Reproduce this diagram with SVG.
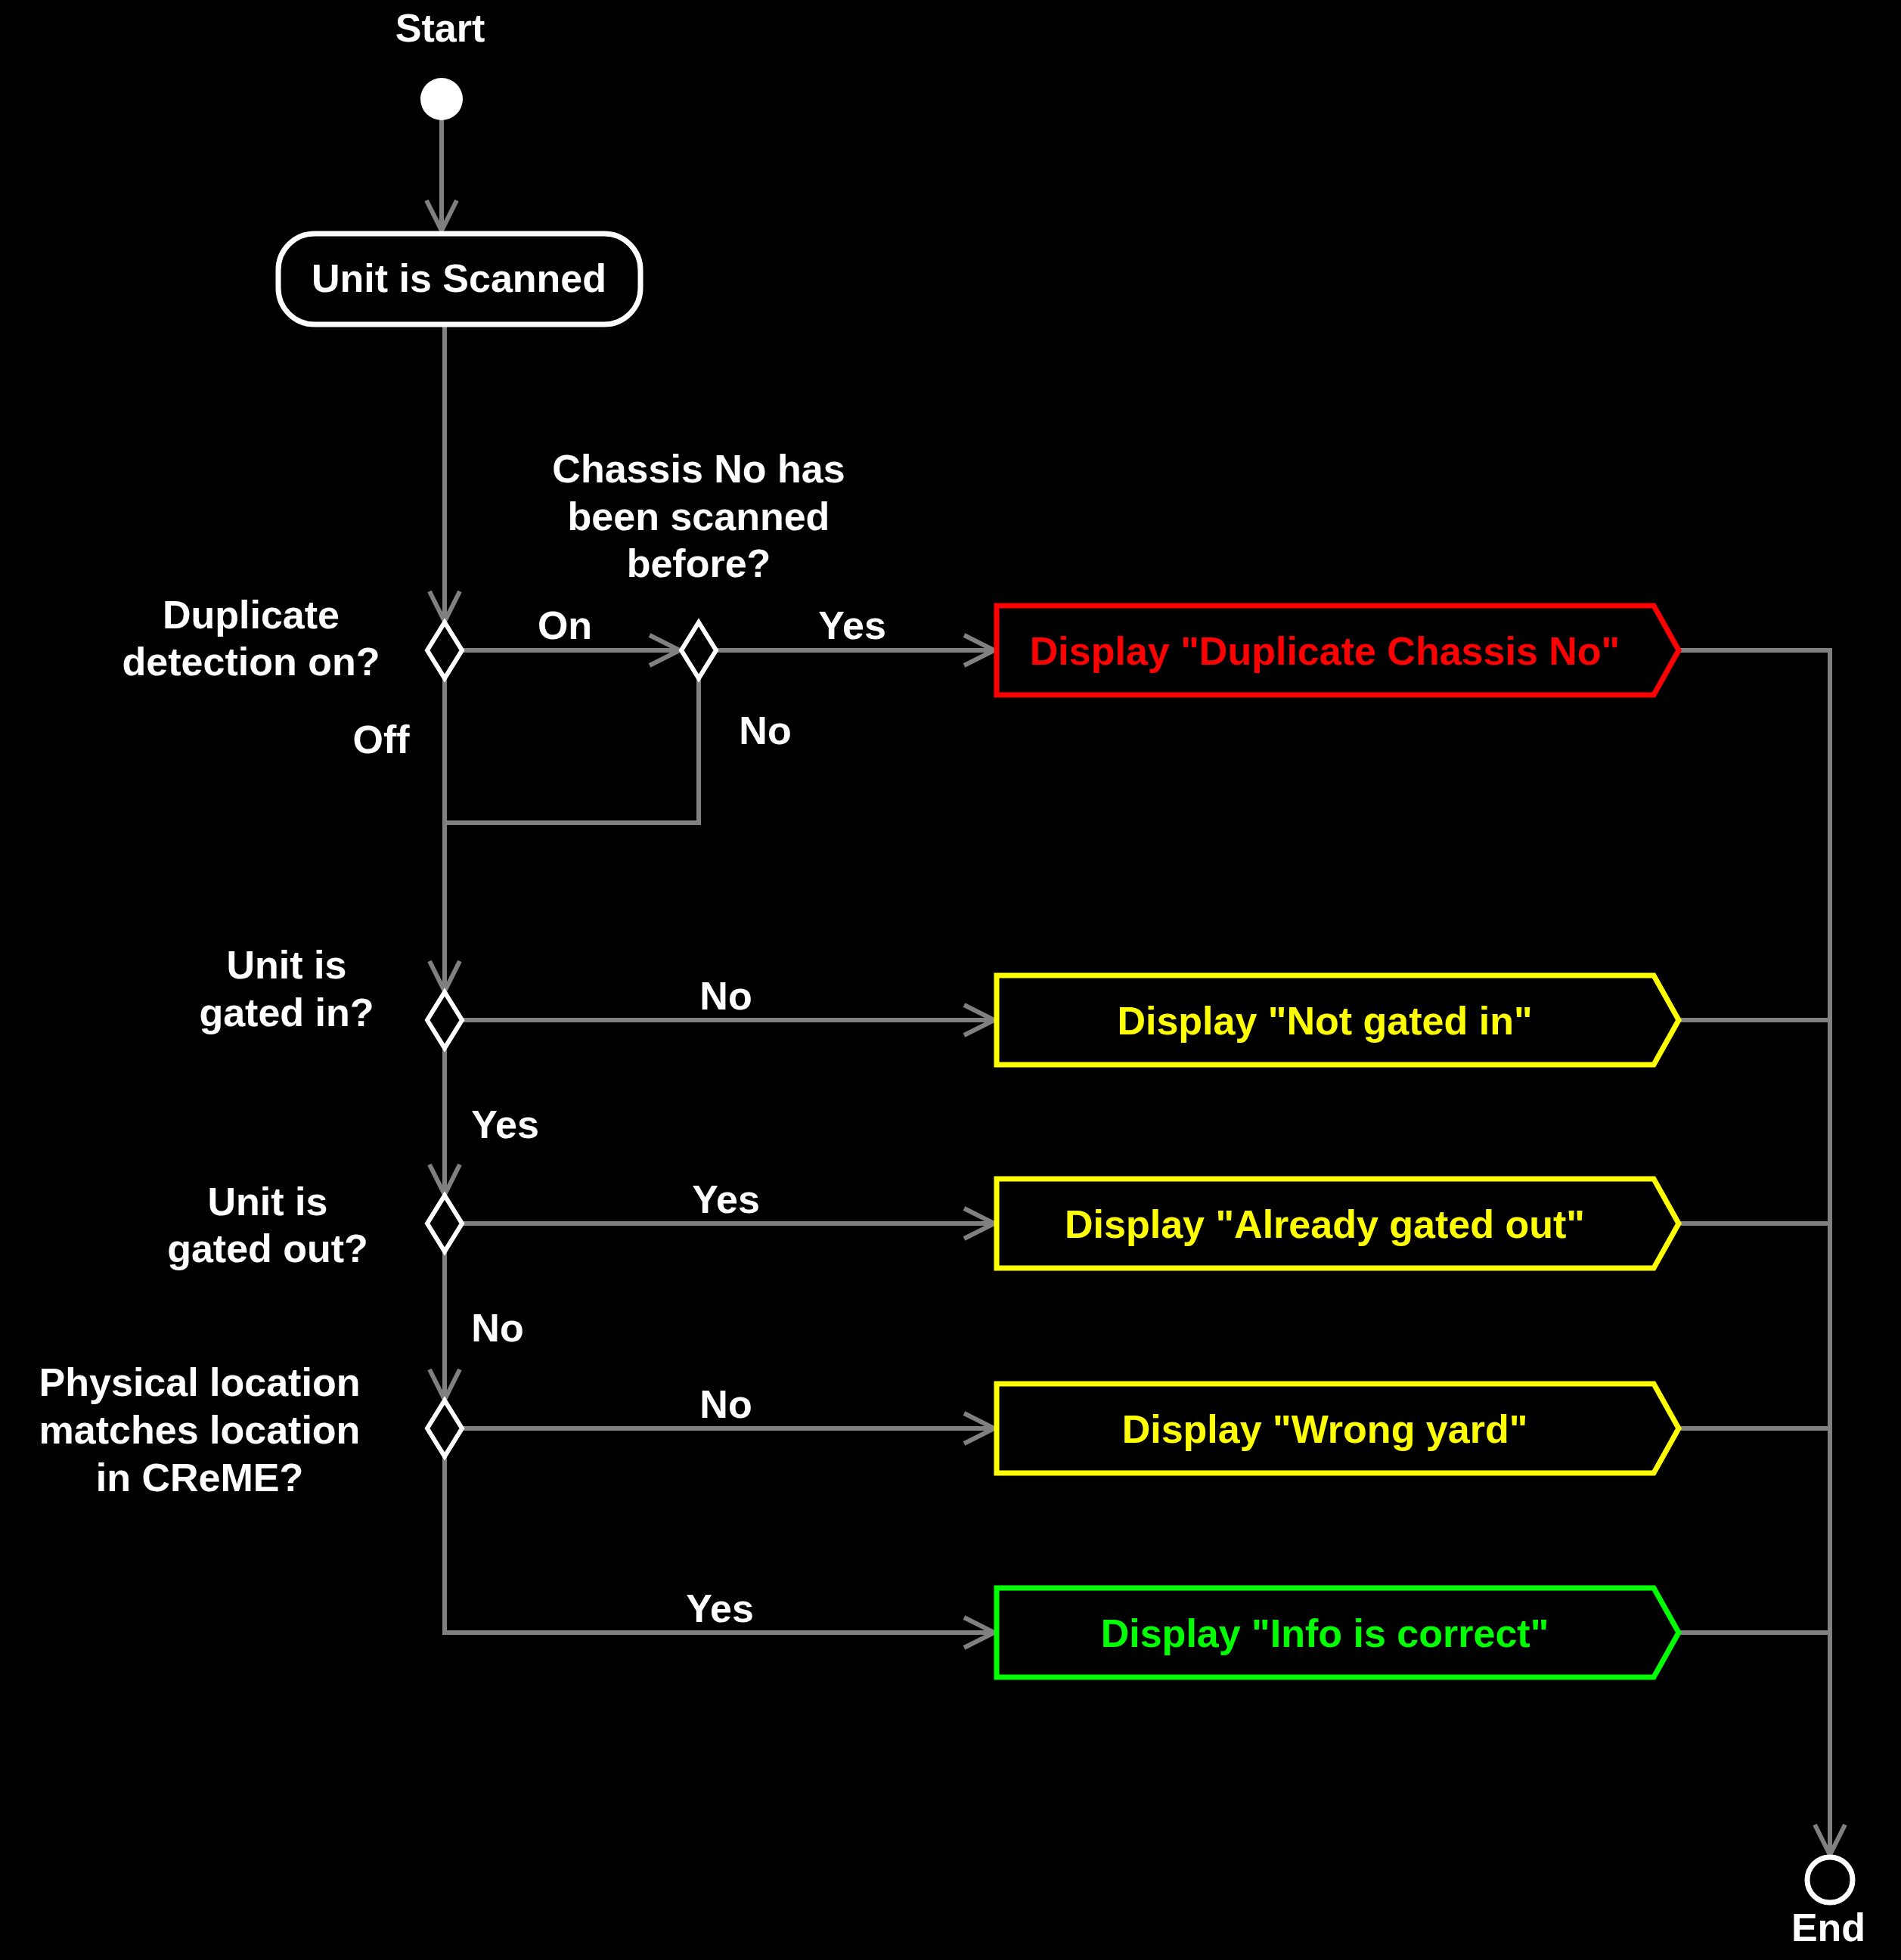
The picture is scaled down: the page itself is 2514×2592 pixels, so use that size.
<svg xmlns="http://www.w3.org/2000/svg" width="2514" height="2592" viewBox="0 0 2514 2592">
<defs>
<style>
text{font-family:"Liberation Sans",Arial,sans-serif;font-weight:bold;font-size:52px;fill:#fff;text-anchor:middle}
.c{fill:none;stroke:#808080;stroke-width:6}
.d{fill:#000;stroke:#fff;stroke-width:6}
.b{fill:#000;stroke-width:7}
</style>
<marker id="a" markerUnits="userSpaceOnUse" markerWidth="50" markerHeight="50" refX="44" refY="22" orient="auto" viewBox="0 0 50 44"><path d="M4,2 L44,22 L4,42" fill="none" stroke="#808080" stroke-width="6"/></marker>
</defs>
<rect width="2514" height="2592" fill="#000"/>
<g id="connectors">
<path class="c" d="M584,150 V305" marker-end="url(#a)"/>
<path class="c" d="M588,430 V822" marker-end="url(#a)"/>
<path class="c" d="M611,860 H899" marker-end="url(#a)"/>
<path class="c" d="M947,860 H1315" marker-end="url(#a)"/>
<path class="c" d="M924,897 V1088 H588"/>
<path class="c" d="M588,897 V1311" marker-end="url(#a)"/>
<path class="c" d="M611,1349 H1315" marker-end="url(#a)"/>
<path class="c" d="M588,1386 V1580" marker-end="url(#a)"/>
<path class="c" d="M611,1618 H1315" marker-end="url(#a)"/>
<path class="c" d="M588,1655 V1851" marker-end="url(#a)"/>
<path class="c" d="M611,1889 H1315" marker-end="url(#a)"/>
<path class="c" d="M588,1926 V2159 H1315" marker-end="url(#a)"/>
<path class="c" d="M2220,860 H2420 M2220,1349 H2420 M2220,1618 H2420 M2220,1889 H2420 M2220,2159 H2420"/>
<path class="c" d="M2420,857 V2453" marker-end="url(#a)"/>
</g>
<g id="start"><text x="582" y="55">Start</text><circle cx="584" cy="131" r="28" fill="#fff"/></g>
<g id="scanned"><rect x="368" y="309" width="479" height="120" rx="48" fill="#000" stroke="#fff" stroke-width="7"/><text x="607" y="386">Unit is Scanned</text></g>
<g id="d1"><path class="d" d="M588,823 L611,860 L588,897 L565,860Z"/><text x="332" y="831">Duplicate</text><text x="332" y="893">detection on?</text></g>
<g id="d2"><path class="d" d="M924,823 L947,860 L924,897 L901,860Z"/><text x="924" y="638">Chassis No has</text><text x="924" y="701">been scanned</text><text x="924" y="763">before?</text></g>
<g id="d3"><path class="d" d="M588,1312 L611,1349 L588,1386 L565,1349Z"/><text x="379" y="1294">Unit is</text><text x="379" y="1357">gated in?</text></g>
<g id="d4"><path class="d" d="M588,1581 L611,1618 L588,1655 L565,1618Z"/><text x="354" y="1607">Unit is</text><text x="354" y="1669">gated out?</text></g>
<g id="d5"><path class="d" d="M588,1852 L611,1889 L588,1926 L565,1889Z"/><text x="264" y="1846">Physical location</text><text x="264" y="1909">matches location</text><text x="264" y="1972">in CReME?</text></g>
<g id="labels">
<text x="747" y="845">On</text><text x="1127" y="845">Yes</text><text x="1012" y="984">No</text><text x="504" y="996">Off</text>
<text x="960" y="1335">No</text><text x="668" y="1505">Yes</text><text x="960" y="1604">Yes</text><text x="658" y="1774">No</text><text x="960" y="1875">No</text><text x="952" y="2145">Yes</text>
</g>
<g id="dup"><path class="b" stroke="#f00" d="M1318,801 H2187 L2220,860 L2187,919 H1318Z"/><text x="1752" y="879" fill="#f00" style="fill:#f00">Display "Duplicate Chassis No"</text></g>
<g id="notin"><path class="b" stroke="#ff0" d="M1318,1290 H2187 L2220,1349 L2187,1408 H1318Z"/><text x="1752" y="1368" style="fill:#ff0">Display "Not gated in"</text></g>
<g id="out"><path class="b" stroke="#ff0" d="M1318,1559 H2187 L2220,1618 L2187,1677 H1318Z"/><text x="1752" y="1637" style="fill:#ff0">Display "Already gated out"</text></g>
<g id="yard"><path class="b" stroke="#ff0" d="M1318,1830 H2187 L2220,1889 L2187,1948 H1318Z"/><text x="1752" y="1908" style="fill:#ff0">Display "Wrong yard"</text></g>
<g id="ok"><path class="b" stroke="#0f0" d="M1318,2100 H2187 L2220,2159 L2187,2218 H1318Z"/><text x="1752" y="2178" style="fill:#0f0">Display "Info is correct"</text></g>
<g id="end"><circle cx="2420" cy="2486" r="30" fill="#000" stroke="#fff" stroke-width="7"/><text x="2418" y="2567">End</text></g>
</svg>
